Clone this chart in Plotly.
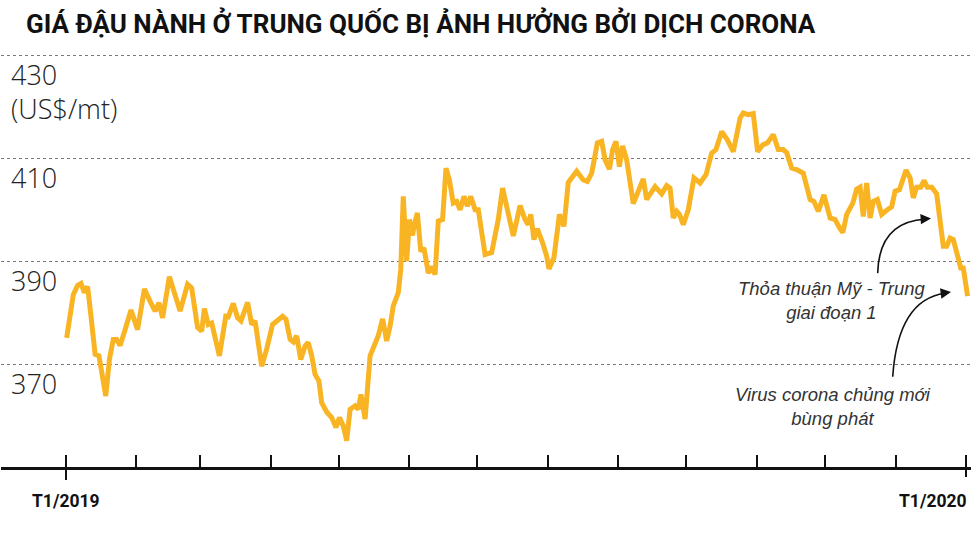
import pandas as pd
import plotly.graph_objects as go

# ---- data ----
start_date = "2019-01-01"
days = [0.3,3.2,5.1,6.6,8.1,9.5,11.0,12.8,14.5,16.0,17.5,19.1,20.8,22.3,23.8,26.0,28.6,31.5,34.5,37.0,39.2,40.9,42.5,45.5,48.0,50.2,53.5,55.3,57.9,59.7,60.9,62.6,64.1,67.5,70.3,71.4,73.6,75.5,77.0,79.9,81.7,83.2,86.1,88.3,90.9,92.7,95.3,96.8,98.6,100.0,101.5,103.3,105.2,106.6,108.1,109.6,111.3,112.5,114.7,116.9,118.8,120.3,122.0,123.5,125.0,127.2,128.6,129.8,131.6,133.8,135.5,137.4,139.3,141.1,142.6,144.0,146.2,147.3,148.4,149.2,149.9,151.1,152.5,153.1,154.6,156.1,157.5,159.4,160.9,162.4,163.8,165.7,167.2,168.7,170.4,171.9,173.4,175.1,176.6,178.1,180.0,181.4,184.4,187.3,190.2,192.1,193.9,196.8,199.8,202.0,203.4,204.5,205.9,207.4,209.7,211.5,212.5,214.7,217.1,219.1,221.0,224.7,227.6,229.4,231.3,233.8,235.7,237.2,239.1,240.5,242.0,243.5,244.9,246.7,249.6,251.4,254.0,255.5,257.0,259.2,262.1,264.3,265.8,267.2,268.7,269.9,271.6,273.8,276.3,279.0,281.6,284.1,286.0,288.5,291.0,293.6,296.6,298.0,300.2,302.4,304.3,306.5,308.6,311.2,313.4,315.6,317.1,319.3,321.5,324.4,327.4,329.1,331.0,333.5,336.2,338.4,340.3,341.8,343.5,346.2,347.9,349.4,350.8,352.3,353.8,355.2,357.0,358.9,361.4,363.3,364.8,366.7,369.6,371.4,372.8,374.3,376.1,377.5,379.0,380.9,383.1,384.6,386.0,387.5,389.0,390.4,391.9,393.7,394.8,396.7]

prices = [375.1,383.5,385.3,385.7,383.9,385.1,379.3,371.9,371.6,367.7,363.8,370.9,374.8,374.8,373.6,376.7,380.5,376.7,384.6,382.2,380.3,381.9,379.0,387.0,383.5,380.3,385.5,384.8,377.1,376.4,380.8,377.7,378.0,371.6,379.3,379.2,381.8,379.0,378.4,382.0,377.7,378.4,369.6,372.9,377.7,378.4,379.3,378.7,374.8,374.3,375.5,370.9,373.5,374.2,371.6,368.0,366.7,362.5,360.7,359.6,357.7,359.6,358.0,355.1,361.2,361.9,361.2,364.1,359.3,371.6,373.5,375.5,378.8,374.5,377.4,381.3,383.9,388.4,402.6,396.8,390.0,398.1,395.0,396.8,399.4,391.9,392.6,387.7,389.0,387.4,397.8,398.1,408.1,405.8,401.3,401.6,400.0,402.6,400.7,402.6,400.0,400.0,391.3,391.7,398.1,404.2,400.7,394.9,400.8,398.1,397.1,399.1,394.2,396.3,393.6,391.0,388.5,390.7,399.1,396.8,405.3,407.5,405.8,405.5,407.1,413.0,413.3,409.7,407.9,411.7,413.3,408.4,412.4,409.7,401.2,403.3,406.0,402.0,402.9,404.5,403.1,404.7,404.2,398.4,399.7,399.1,397.1,400.0,406.2,405.2,406.8,411.0,411.7,415.2,413.6,411.3,417.8,418.8,418.5,418.7,411.3,412.6,413.0,414.6,411.7,411.7,411.1,408.1,407.8,407.1,402.0,401.6,399.7,402.9,398.4,398.1,396.5,395.6,399.1,401.3,404.0,404.4,398.7,405.2,398.4,401.6,402.0,399.1,400.0,400.6,403.6,403.9,407.7,406.2,402.3,404.4,404.4,405.7,404.4,404.4,403.1,398.1,392.9,392.9,394.5,394.2,391.9,388.7,388.7,383.2]

y_ticks = [370, 390, 410, 430]
y_unit = "(US$/mt)"
month_ticks = pd.date_range("2019-01-01", "2020-02-01", freq="MS")
x_label_first = "T1/2019"
x_label_last = "T1/2020"
title = "GIÁ ĐẬU NÀNH Ở TRUNG QUỐC BỊ ẢNH HƯỞNG BỞI DỊCH CORONA"
note_deal = "Thỏa thuận Mỹ - Trung<br>giai đoạn 1"
note_virus = "Virus corona chủng mới<br>bùng phát"

# ---- build ----
t0 = pd.Timestamp(start_date)
dates = t0 + pd.to_timedelta(days, unit="D")
x_range = [t0 + pd.Timedelta(days=-28.6), t0 + pd.Timedelta(days=398.2)]

LINE = "#F9B424"
INK = "#111111"
GRID = "#7a7a7a"

fig = go.Figure()
fig.add_trace(go.Scatter(x=dates, y=prices, mode="lines",
                         line=dict(color=LINE, width=5), hoverinfo="skip",
                         showlegend=False))

W, H = 972, 555
mt, mb, ml, mr = 40, 87.7, 1, 1
y_top = 433
ph = H - mt - mb
pw = W - ml - mr

def px2paper(px, py):
    return (px - ml) / pw, (H - mb - py) / ph

fig.update_layout(
    width=W, height=H,
    margin=dict(l=ml, r=mr, t=mt, b=mb, pad=0),
    paper_bgcolor="white", plot_bgcolor="rgba(0,0,0,0)",
    showlegend=False,
    xaxis=dict(type="date", range=x_range, showgrid=False, zeroline=False,
               showline=True, linecolor=INK, linewidth=3,
               tickmode="array", tickvals=list(month_ticks),
               ticks="inside", ticklen=12, tickwidth=2, tickcolor=INK,
               showticklabels=False, fixedrange=True),
    yaxis=dict(range=[350, y_top], tickmode="array", tickvals=y_ticks,
               showgrid=True, gridcolor=GRID, gridwidth=1, griddash="dot",
               zeroline=False, showline=False, showticklabels=False,
               ticks="", fixedrange=True),
)

anns = []
# title
anns.append(dict(xref="paper", yref="paper", x=0, y=1, xanchor="left", yanchor="middle",
                 xshift=23, yshift=17.5, showarrow=False, text=f"<b>{title}</b>",
                 font=dict(family="Roboto", size=26, color=INK)))
# y labels under gridlines
for v in y_ticks:
    anns.append(dict(xref="paper", yref="y", x=0, y=v, xanchor="left", yanchor="middle",
                     xshift=8, yshift=-19.5, showarrow=False, text=str(v),
                     font=dict(family="Open Sans", size=27, color="#222222", weight=300)))
anns.append(dict(xref="paper", yref="y", x=0, y=y_ticks[-1], xanchor="left", yanchor="middle",
                 xshift=8, yshift=-53.5, showarrow=False, text=y_unit,
                 font=dict(family="Open Sans", size=27, color="#222222", weight=300)))
# x labels
anns.append(dict(xref="x", yref="paper", x=month_ticks[0], y=0, xanchor="center", yanchor="middle",
                 yshift=-34, showarrow=False, text=f"<b>{x_label_first}</b>",
                 font=dict(family="Roboto", size=17.5, color=INK)))
anns.append(dict(xref="paper", yref="paper", x=1, y=0, xanchor="right", yanchor="middle",
                 xshift=-2, yshift=-34, showarrow=False, text=f"<b>{x_label_last}</b>",
                 font=dict(family="Roboto", size=17.5, color=INK)))
# notes
nx, ny = px2paper(832, 300.5)
anns.append(dict(xref="paper", yref="paper", x=nx, y=ny, xanchor="center", yanchor="middle",
                 showarrow=False, text=note_deal, align="center",
                 font=dict(family="Liberation Sans", size=18.5, color="#333333", style="italic")))
nx, ny = px2paper(833, 406.5)
anns.append(dict(xref="paper", yref="paper", x=nx, y=ny, xanchor="center", yanchor="middle",
                 showarrow=False, text=note_virus, align="center",
                 font=dict(family="Liberation Sans", size=18.5, color="#333333", style="italic")))

# curved arrows
def curve(s, c, e):
    sx, sy = px2paper(*s); cx, cy = px2paper(*c); ex, ey = px2paper(*e)
    return f"M {sx},{sy} Q {cx},{cy} {ex},{ey}"

shapes = []
shapes.append(dict(type="path", xref="paper", yref="paper",
                   path=curve((877.7, 273.3), (879, 222), (925, 219.3)),
                   line=dict(color=INK, width=1.6)))
shapes.append(dict(type="path", xref="paper", yref="paper",
                   path=curve((892.7, 377), (898, 300), (945, 293.5)),
                   line=dict(color=INK, width=1.6)))
for tip, off in [((931, 218.6), (-9, 0.6)), ((951, 292.3), (-9, 1.2))]:
    tx, ty = px2paper(*tip)
    anns.append(dict(xref="paper", yref="paper", x=tx, y=ty, text="", showarrow=True,
                     ax=off[0], ay=off[1], arrowhead=2, arrowsize=1.3, arrowwidth=1.6,
                     arrowcolor=INK, standoff=0))

# first and last ticks reach below the axis
for d, depth in [(month_ticks[0], 13), (month_ticks[-1], 10)]:
    shapes.append(dict(type="line", xref="x", yref="paper", x0=d, x1=d, y0=0, y1=-depth / ph,
                       line=dict(color=INK, width=2)))

fig.update_layout(annotations=anns, shapes=shapes)
fig.write_html("out.html", config={"displayModeBar": False},
               post_script="document.body.style.margin='0';document.body.style.overflow='hidden';")
